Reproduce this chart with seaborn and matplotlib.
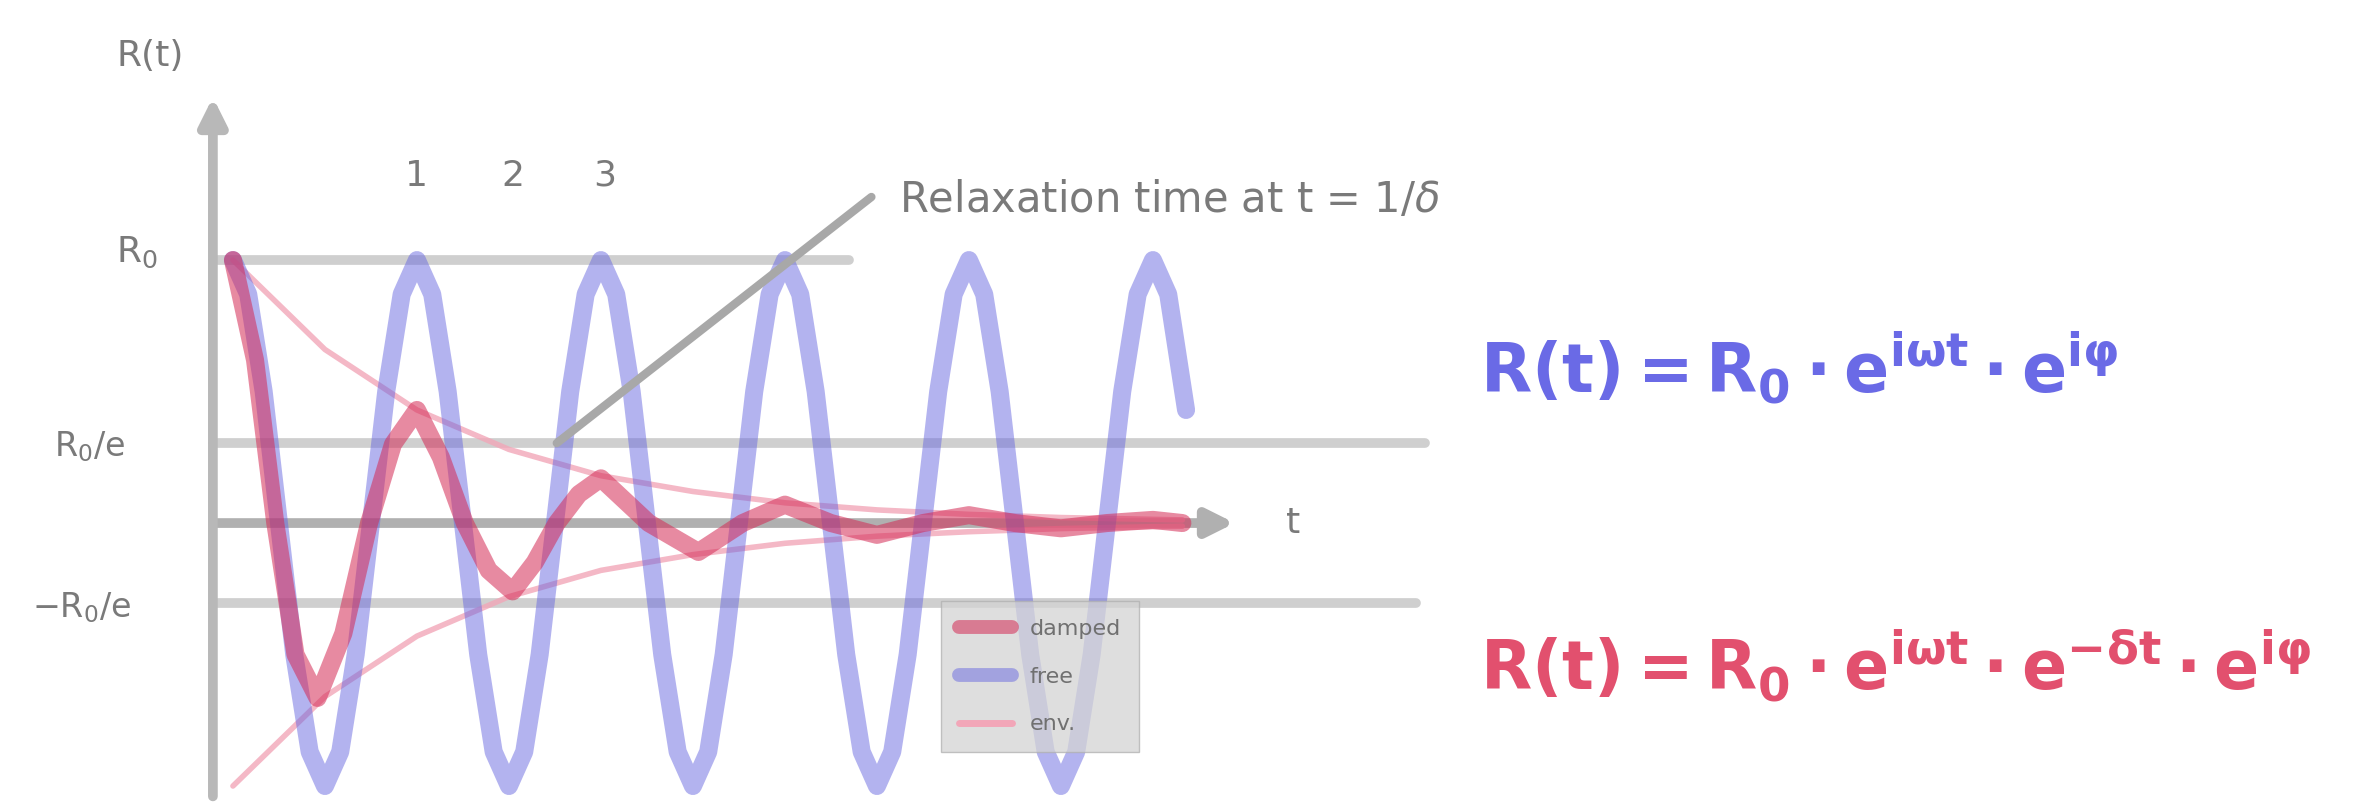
import matplotlib
matplotlib.use("Agg")
import matplotlib.pyplot as plt
from matplotlib.lines import Line2D
import seaborn as sns

# free oscillation (blue), t in periods
blue_t = [0, 0.083, 0.167, 0.25, 0.333, 0.417, 0.5, 0.583, 0.667, 0.75, 0.833, 0.917,
          1, 1.083, 1.167, 1.25, 1.333, 1.417, 1.5, 1.583, 1.667, 1.75, 1.833, 1.917,
          2, 2.083, 2.167, 2.25, 2.333, 2.417, 2.5, 2.583, 2.667, 2.75, 2.833, 2.917,
          3, 3.083, 3.167, 3.25, 3.333, 3.417, 3.5, 3.583, 3.667, 3.75, 3.833, 3.917,
          4, 4.083, 4.167, 4.25, 4.333, 4.417, 4.5, 4.583, 4.667, 4.75, 4.833, 4.917,
          5, 5.083, 5.18]
blue_r = [1, 0.87, 0.5, 0, -0.5, -0.87, -1, -0.87, -0.5, 0, 0.5, 0.87,
          1, 0.87, 0.5, 0, -0.5, -0.87, -1, -0.87, -0.5, 0, 0.5, 0.87,
          1, 0.87, 0.5, 0, -0.5, -0.87, -1, -0.87, -0.5, 0, 0.5, 0.87,
          1, 0.87, 0.5, 0, -0.5, -0.87, -1, -0.87, -0.5, 0, 0.5, 0.87,
          1, 0.87, 0.5, 0, -0.5, -0.87, -1, -0.87, -0.5, 0, 0.5, 0.87,
          1, 0.87, 0.43]

# damped oscillation (red)
red_t = [0, 0.12, 0.23, 0.34, 0.46, 0.6, 0.74, 0.87, 1.0, 1.13, 1.26, 1.39, 1.52,
         1.64, 1.76, 1.88, 2.0, 2.26, 2.53, 2.77, 3.0, 3.25, 3.5, 3.75, 4.0,
         4.25, 4.5, 4.75, 5.0, 5.16]
red_r = [1, 0.62, 0.0, -0.5, -0.665, -0.42, 0.0, 0.3, 0.43, 0.25, 0.0, -0.18, -0.26,
         -0.15, 0.0, 0.11, 0.17, 0.0, -0.11, 0.0, 0.07, 0.0, -0.045, 0.0, 0.03,
         0.0, -0.02, 0.0, 0.012, 0.0]

# envelope +-R0*exp(-delta t)
env_t = [0, 0.5, 1, 1.5, 2, 2.5, 3, 3.5, 4, 4.5, 5, 5.16]
env_r = [1, 0.66, 0.43, 0.28, 0.18, 0.12, 0.077, 0.05, 0.033, 0.021, 0.014, 0.012]

level_r0 = 1.0
level_e = 0.304
marks_t = [1.0, 1.52, 2.02]
marks_txt = ["1", "2", "3"]

BLUE = "#6868e0"
RED = "#d42a55"
PINK = "#f2a6b8"
GRAY = "#cfcfcf"
TXT = "#7a7a7a"

sns.set_theme(style="white")
plt.rcParams['font.family'] = ['DejaVu Sans']

fig = plt.figure(figsize=(23.78, 8.06), dpi=100)
ax = fig.add_axes([0, 0, 1, 1])
ax.set_xlim(-1.266, 11.658)
ax.set_ylim(-1.076, 1.989)
ax.axis("off")

x0 = -0.109
# helper lines
ax.plot([x0, 3.35], [level_r0, level_r0], color=GRAY, lw=7, zorder=1, solid_capstyle="butt")
ax.plot([x0, 6.48], [level_e, level_e], color=GRAY, lw=7, zorder=1, solid_capstyle="butt")
ax.plot([x0, 6.43], [-level_e, -level_e], color=GRAY, lw=7, zorder=1, solid_capstyle="butt")

# axes with arrows
ax.annotate("", xy=(5.46, 0), xytext=(x0, 0),
            arrowprops=dict(arrowstyle="-|>", color="#b0b0b0", lw=7, mutation_scale=40), zorder=2)
ax.annotate("", xy=(x0, 1.63), xytext=(x0, -1.05),
            arrowprops=dict(arrowstyle="-|>", color="#b8b8b8", lw=7, mutation_scale=40), zorder=2)

# envelopes
sns.lineplot(x=env_t, y=env_r, ax=ax, color=PINK, lw=4, alpha=0.8, sort=False, zorder=3)
sns.lineplot(x=env_t, y=[-v for v in env_r], ax=ax, color=PINK, lw=4, alpha=0.8, sort=False, zorder=3)

# oscillations
sns.lineplot(x=blue_t, y=blue_r, ax=ax, color=BLUE, lw=13, alpha=0.5, sort=False, zorder=4)
sns.lineplot(x=red_t, y=red_r, ax=ax, color=RED, lw=13, alpha=0.55, sort=False, zorder=5)
for ln in ax.lines:
    ln.set_solid_joinstyle("round")
    ln.set_solid_capstyle("round")

# labels
ax.text(-0.45, 1.775, "R(t)", fontsize=26, color=TXT, ha="center", va="center")
ax.text(-0.52, 1.03, r"R$_0$", fontsize=26, color=TXT, ha="center", va="center")
ax.text(-0.78, 0.29, r"R$_0$/e", fontsize=24, color=TXT, ha="center", va="center")
ax.text(-0.82, -0.32, r"$-$R$_0$/e", fontsize=24, color=TXT, ha="center", va="center")
ax.text(5.76, 0.0, "t", fontsize=26, color=TXT, ha="center", va="center")
for mt, ms in zip(marks_t, marks_txt):
    ax.text(mt, 1.32, ms, fontsize=26, color=TXT, ha="center", va="center")

ax.plot([3.47, 1.76], [1.24, level_e], color="#a8a8a8", lw=6, zorder=6)
ax.text(3.62, 1.23, r"Relaxation time at t = 1/$\delta$", fontsize=30, color=TXT,
        ha="left", va="center")

handles = [Line2D([], [], color=RED, lw=10, alpha=0.55),
           Line2D([], [], color=BLUE, lw=10, alpha=0.5),
           Line2D([], [], color=PINK, lw=5)]
leg = ax.legend(handles, ["damped", "free", "env."], loc="upper left",
                bbox_to_anchor=(930 / 2378, 1 - 590 / 806), bbox_transform=fig.transFigure,
                fontsize=16, handlelength=2.4, labelspacing=1.25, borderpad=0.8, frameon=True,
                facecolor="#d4d4d4", edgecolor="#b0b0b0", framealpha=0.75, fancybox=False)
for t in leg.get_texts():
    t.set_color("#707070")

fig.text(1480 / 2378, 1 - 368 / 806,
         r"$\mathbf{R(t) = R_0 \cdot e^{i\omega t} \cdot e^{i\varphi}}$",
         fontsize=48, color="#6a6ae6", ha="left", va="center")
fig.text(1480 / 2378, 1 - 665 / 806,
         r"$\mathbf{R(t) = R_0 \cdot e^{i\omega t} \cdot e^{-\delta t} \cdot e^{i\varphi}}$",
         fontsize=48, color="#e2506e", ha="left", va="center")

fig.savefig("out.png", dpi=100)
